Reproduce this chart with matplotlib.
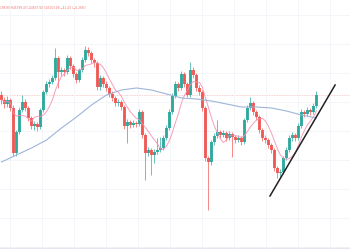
import matplotlib
matplotlib.use("Agg")
import matplotlib.pyplot as plt
import numpy as np
import pandas as pd

# candle data (price), one entry per bar
closes = [45100, 45060, 45100, 45020, 44570, 44780, 45000, 45080, 45020, 44920,
          44840, 44860, 44830, 45000, 45180, 45260, 45280, 45320, 45520, 45380,
          45400, 45380, 45520, 45440, 45360, 45300, 45400, 45500, 45600, 45570,
          45500, 45470, 45230, 45320, 45260, 45220, 45160, 45120, 45070, 45080,
          45030, 44840, 44880, 44850, 44870, 44860, 44980, 44750, 44570, 44600,
          44550, 44580, 44600, 44620, 44720, 44820, 44980, 45140, 45260, 45220,
          45360, 45260, 45150, 45400, 45350, 45220, 45180, 45020, 44520, 44480,
          44680, 44740, 44780, 44750, 44770, 44720, 44760, 44730, 44700, 44720,
          44680, 44900, 45020, 45070, 44980, 44930, 44800, 44720, 44700, 44650,
          44600, 44420, 44370, 44380, 44520, 44600, 44720, 44750, 44720, 44840,
          44980, 44960, 45000, 44980, 45040, 45153]
first_open = 45150
highs = [45190, 45130, 45140, 45120, 45050, 44800, 45030, 45150, 45110, 45040,
         44940, 44890, 44880, 45020, 45200, 45290, 45310, 45350, 45620, 45540,
         45430, 45420, 45550, 45540, 45460, 45380, 45420, 45530, 45640, 45630,
         45590, 45520, 45490, 45350, 45340, 45290, 45240, 45190, 45140, 45110,
         45100, 45050, 44910, 44900, 44900, 44890, 45010, 45000, 44770, 44630,
         44620, 44610, 44720, 44730, 44750, 44850, 45010, 45170, 45290, 45280,
         45390, 45380, 45280, 45480, 45430, 45370, 45250, 45200, 45040, 44540,
         44700, 44770, 44900, 44800, 44800, 44790, 44790, 44780, 44750, 44750,
         44740, 44920, 45050, 45130, 45090, 45000, 44950, 44820, 44750, 44720,
         44670, 44620, 44440, 44410, 44540, 44630, 44750, 44780, 44770, 44870,
         45010, 45000, 45030, 45020, 45070, 45190]
lows = [45060, 45020, 45030, 44990, 44540, 44540, 44760, 44980, 44990, 44890,
        44810, 44800, 44790, 44810, 44980, 45160, 45230, 45260, 45300, 45220,
        45350, 45340, 45360, 45410, 45330, 45270, 45280, 45380, 45480, 45540,
        45470, 45430, 45200, 45200, 45230, 45190, 45130, 45090, 45040, 45040,
        45000, 44810, 44670, 44820, 44830, 44830, 44840, 44720, 44300, 44540,
        44350, 44470, 44560, 44580, 44600, 44700, 44800, 44960, 45120, 45190,
        45200, 45230, 45130, 45130, 45320, 45190, 45150, 44990, 44490, 44000,
        44450, 44650, 44720, 44720, 44730, 44690, 44700, 44530, 44670, 44680,
        44650, 44660, 44880, 45000, 44950, 44900, 44770, 44690, 44670, 44620,
        44570, 44390, 44320, 44320, 44360, 44500, 44580, 44690, 44690, 44700,
        44820, 44930, 44940, 44950, 44960, 45020]

# slow moving average (bar index, price)
ma_slow_idx = [0, 5, 10, 15, 20, 25, 30, 35, 40, 45, 50, 55, 60, 65, 70, 75,
               80, 85, 90, 95, 100, 105]
ma_slow = [44480, 44550, 44620, 44700, 44820, 44930, 45050, 45150, 45200, 45220,
           45200, 45160, 45120, 45110, 45090, 45060, 45030, 45030, 45020, 44990,
           44950, 44920]

# hand drawn trend line
trend_x = [89.5, 111.2]
trend_y = [44140, 45250]

header = "198.90 H45799.47 L44637.92 C45153.09 \u221241.43 (\u22120.26%)"

green = "#26a69a"
red = "#ef5350"

opens = [first_open] + closes[:-1]
n = len(closes)
x = np.arange(n)

fig = plt.figure(figsize=(3.5, 2.5), dpi=100)
ax = fig.add_axes([0, 0, 1, 1])
ax.set_xlim(-0.5, 116.17)
ax.set_ylim(43600, 46100)

# faint grid
ax.set_xticks(np.arange(2.83, 116, 10.67))
ax.set_yticks(np.arange(43630, 46100, 290))
ax.grid(True, color="#f2f4f7", linewidth=0.6)
ax.tick_params(length=0, labelbottom=False, labelleft=False)
for s in ax.spines.values():
    s.set_visible(False)

cols = [green if c >= o else red for o, c in zip(opens, closes)]
bottoms = [min(o, c) for o, c in zip(opens, closes)]
heights = [max(abs(c - o), 8) for o, c in zip(opens, closes)]

ax.vlines(x, lows, highs, colors=cols, linewidth=0.6, alpha=0.8, zorder=2)
ax.bar(x, heights, bottom=bottoms, width=0.68, color=cols, alpha=0.9,
       linewidth=0, zorder=3)

ma_fast = pd.Series(closes).rolling(7, min_periods=1).mean()
ax.plot(x, ma_fast, color="#f48fb1", linewidth=0.7, alpha=0.85, zorder=4)
ax.plot(ma_slow_idx, ma_slow, color="#9db6d8", linewidth=0.8, zorder=4)

ax.axhline(closes[-1], color="#f5c0c0", linewidth=0.6, linestyle=(0, (1, 1)), zorder=1)
ax.axhline(43620, color="#e0e3eb", linewidth=1.2, zorder=1)

ax.plot(trend_x, trend_y, color="#222222", linewidth=1.1, zorder=5)

fig.text(0.0, 0.968, header, color=red, fontsize=2.1, alpha=0.85,
         ha="left", va="center")

fig.savefig("out.png", dpi=100)
